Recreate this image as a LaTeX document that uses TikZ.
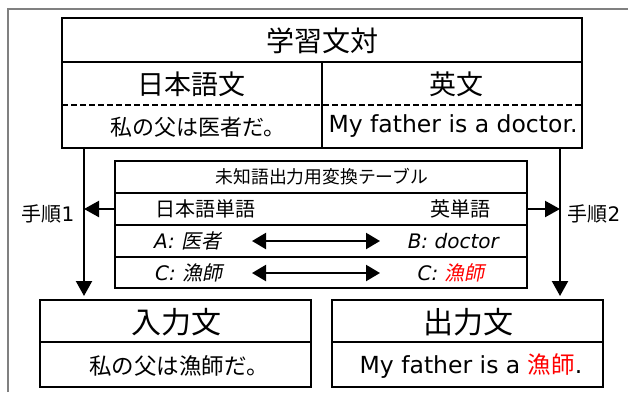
\documentclass[tikz,border=0pt]{standalone}
\usepackage{fontspec}
\setmainfont{DejaVu Sans}
\newfontfamily\jp{Noto Sans CJK JP}
\newfontfamily\jpit[FakeSlant=0.2]{Noto Sans CJK JP}
\usetikzlibrary{arrows.meta}
\begin{document}
\begin{tikzpicture}[x=1pt,y=-1pt,
  outerbox/.style={draw=black, line width=2.8pt, inner sep=0pt},
  sep/.style={draw=black, line width=1.7pt},
  arr/.style={line width=2.2pt, -{Triangle[length=15pt,width=16pt]}},
  darr/.style={line width=2.2pt, {Triangle[length=14pt,width=16pt]}-{Triangle[length=14pt,width=16pt]}},
  txt/.style={inner sep=0pt}]
\useasboundingbox (0,0) rectangle (628,392);
\draw[gray, line width=1.5pt] (8,392) -- (8,9) -- (628,9);

% top table
\node[outerbox, minimum width=520pt, minimum height=130pt] (gakushu) at (322,83) {};
\draw[sep] (62,62) -- (582,62);
\draw[sep] (322,62) -- (322,148);
\draw[line width=1.7pt, dash pattern=on 6pt off 3pt] (62,105) -- (582,105);
\node[txt] (title) at (322,41) {\fontsize{28}{28}\jp 学習文対};
\node[txt] (jah) at (191,84) {\fontsize{27}{27}\jp 日本語文};
\node[txt] (enh) at (456,84) {\fontsize{27}{27}\jp 英文};
\node[txt] (jas) at (198,127) {\fontsize{22}{22}\jp 私の父は医者だ。};
\node[txt] (ens) at (453,126) {\fontsize{23.5}{23.5}\selectfont My father is a doctor.};

% middle table
\node[outerbox, line width=2.4pt, minimum width=412pt, minimum height=127pt] (tbl) at (321,224.5) {};
\draw[sep] (115,193) -- (527,193);
\draw[sep] (115,225) -- (527,225);
\draw[sep] (115,257) -- (527,257);
\node[txt] (tbltitle) at (322,177) {\fontsize{17.8}{17.8}\jp 未知語出力用変換テーブル};
\node[txt, anchor=west] (jaw) at (155,209) {\fontsize{20}{20}\jp 日本語単語};
\node[txt, anchor=east] (enw) at (491,209) {\fontsize{20}{20}\jp 英単語};
\node[txt, anchor=west] (wa) at (154,241) {\fontsize{20}{20}\selectfont\itshape A: {\jpit 医者}};
\node[txt, anchor=east] (wb) at (499,241) {\fontsize{20}{20}\selectfont\itshape B: doctor};
\node[txt, anchor=west] (wc) at (155,273) {\fontsize{20}{20}\selectfont\itshape C: {\jpit 漁師}};
\node[txt, anchor=east] (wd) at (485,273) {\fontsize{20}{20}\selectfont\itshape C: {\jpit\color{red}漁師}};
\coordinate (a1l) at (252,241);
\coordinate (a1r) at (380,241);
\coordinate (a2l) at (252,273);
\coordinate (a2r) at (380,273);
\draw[darr] (a1l) -- (a1r);
\draw[darr] (a2l) -- (a2r);

% bottom boxes
\node[outerbox, minimum width=271pt, minimum height=87pt] (inbox) at (175.5,343.5) {};
\draw[sep, line width=2pt] (40,342) -- (311,342);
\node[txt] (inh) at (176,322) {\fontsize{30}{30}\jp 入力文};
\node[txt] (ins) at (179,366) {\fontsize{22.5}{22.5}\jp 私の父は漁師だ。};
\node[outerbox, minimum width=271pt, minimum height=87pt] (outbox) at (467.5,343.5) {};
\draw[sep, line width=2pt] (332,342) -- (603,342);
\node[txt] (outh) at (468,322) {\fontsize{30}{30}\jp 出力文};
\node[txt] (outs) at (471,366) {\fontsize{23.5}{23.5}\selectfont My father is a {\jp\color{red}漁師}.};

% step arrows
\coordinate (l1) at (84,148);
\coordinate (l2) at (84,296);
\coordinate (lh) at (84,209);
\coordinate (r1) at (560,148);
\coordinate (r2) at (560,296);
\coordinate (rh) at (560,209);
\draw[arr] (l1) -- (l2);
\draw[arr] (r1) -- (r2);
\draw[arr] (tbl.west |- lh) -- (lh);
\draw[arr] (tbl.east |- rh) -- (rh);
\node[txt] (step1) at (48,214) {\fontsize{20}{20}\selectfont{\jp 手順}1};
\node[txt] (step2) at (594,214) {\fontsize{20}{20}\selectfont{\jp 手順}2};
\end{tikzpicture}
\end{document}
